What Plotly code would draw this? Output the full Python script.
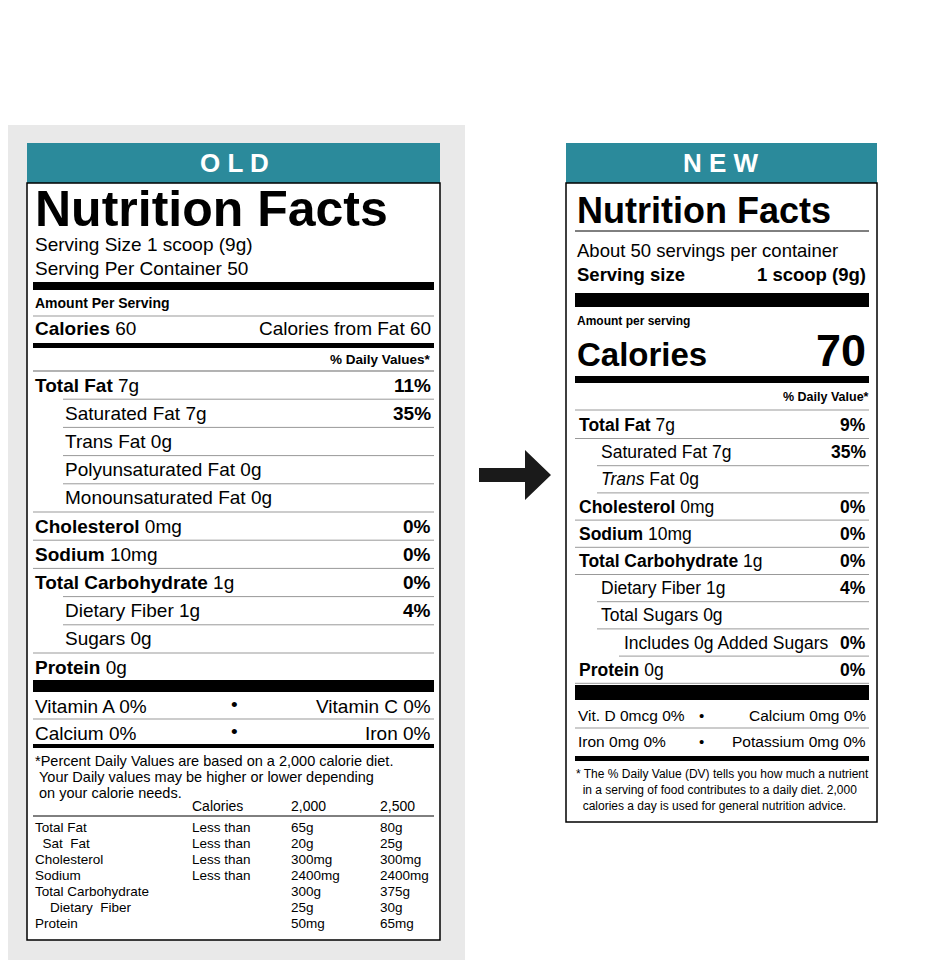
import plotly.graph_objects as go

headline = ["To ensure the accuracy of our nutrition labels, we make",
            "updates due to minor variations from ingredient sourcing,",
            "manufacturing processes, and FDA mandated label changes."]

old_names = ["Total Fat", "Saturated Fat", "Trans Fat", "Polyunsaturated Fat", "Monounsaturated Fat",
             "Cholesterol", "Sodium", "Total Carbohydrate", "Dietary Fiber", "Sugars", "Protein"]
old_amounts = ["7g", "7g", "0g", "0g", "0g", "0mg", "10mg", "1g", "1g", "0g", "0g"]
old_dv = ["11%", "35%", "", "", "", "0%", "0%", "0%", "4%", "", ""]
old_indent = [0, 1, 1, 1, 1, 0, 0, 0, 1, 1, 0]

new_names = ["Total Fat", "Saturated Fat", "Trans", "Cholesterol", "Sodium", "Total Carbohydrate",
             "Dietary Fiber", "Total Sugars", "Includes 0g Added Sugars", "Protein"]
new_amounts = ["7g", "7g", "Fat 0g", "0mg", "10mg", "1g", "1g", "0g", "", "0g"]
new_dv = ["9%", "35%", "", "0%", "0%", "0%", "4%", "", "0%", "0%"]
new_indent = [0, 1, 1, 0, 0, 0, 1, 1, 2, 0]

ref_rows = ["Total Fat", " Sat Fat", "Cholesterol", "Sodium", "Total Carbohydrate", "  Dietary Fiber", "Protein"]
ref_qual = ["Less than", "Less than", "Less than", "Less than", "", "", ""]
ref_2000 = ["65g", "20g", "300mg", "2400mg", "300g", "25g", "50mg"]
ref_2500 = ["80g", "25g", "300mg", "2400mg", "375g", "30g", "65mg"]

TEAL = "#2b8a9b"
F = "Liberation Sans, Arial, sans-serif"
shapes, ann = [], []

def rect(x0, y0, x1, y1, fill, line=None, w=0):
    shapes.append(dict(type="rect", x0=x0, y0=y0, x1=x1, y1=y1, fillcolor=fill,
                       line=dict(color=line or fill, width=w), layer="below"))

def hline(x0, x1, y, w=1, c="#999"):
    shapes.append(dict(type="line", x0=x0, x1=x1, y0=y, y1=y, line=dict(color=c, width=w)))

def txt(x, y, t, size, anchor="left", color="black", family=F):
    ann.append(dict(x=x, y=y, text=t, showarrow=False, xanchor=anchor, yanchor="middle",
                    font=dict(size=size, color=color, family=family)))

for i, l in enumerate(headline):
    txt(3, 15 + 36 * i, "<b>" + l + "</b>", 26.5, family="DejaVu Sans, sans-serif")

# OLD label
rect(3, 125, 465, 968, "#e9e9e9")
rect(27, 143, 440, 183, TEAL)
txt(234, 163, "<b>O L D</b>", 26, "center", "white")
rect(27, 183, 440, 940, "white", "black", 1.5)
txt(33, 209, "<b>Nutrition Facts</b>", 50)
txt(33, 244, "Serving Size 1 scoop (9g)", 19)
txt(33, 268, "Serving Per Container 50", 19)
rect(33, 282, 434, 290, "black")
txt(33, 303, "<b>Amount Per Serving</b>", 14)
hline(33, 434, 316)
txt(33, 328, "<b>Calories</b> 60", 19)
txt(433, 328, "Calories from Fat 60", 19, "right")
rect(33, 343, 434, 348, "black")
txt(433, 359, "<b>% Daily Values*</b>", 13.5, "right")
hline(33, 434, 371)
y = 385
for n, a, d, ind in zip(old_names, old_amounts, old_dv, old_indent):
    hline(33 + 30 * ind, 434, y - 14)
    name = n if ind else "<b>" + n + "</b>"
    txt(33 + 30 * ind, y, name + " " + a, 19)
    if d:
        txt(433, y, "<b>" + d + "</b>", 19, "right")
    y += 28.2
rect(33, 680, 434, 692, "black")
txt(33, 706, "Vitamin A 0%", 19); txt(234, 704, "•", 19, "center"); txt(433, 706, "Vitamin C 0%", 19, "right")
hline(33, 434, 719)
txt(33, 733, "Calcium 0%", 19); txt(234, 731, "•", 19, "center"); txt(433, 733, "Iron 0%", 19, "right")
rect(33, 744, 434, 748, "black")
for i, l in enumerate(["*Percent Daily Values are based on a 2,000 calorie diet.",
                       " Your Daily values may be higher or lower depending",
                       " on your calorie needs."]):
    txt(33, 761 + 16 * i, l.replace(" ", "&nbsp;", 1) if l.startswith(" ") else l, 14.5)
txt(190, 806, "Calories", 14); txt(289, 806, "2,000", 14); txt(378, 806, "2,500", 14)
hline(33, 434, 816, 1, "black")
for i in range(len(ref_rows)):
    yy = 827 + 16 * i
    lab = ref_rows[i].replace(" ", "&nbsp;&nbsp;") if ref_rows[i].startswith(" ") else ref_rows[i]
    txt(33, yy, lab, 13.5); txt(190, yy, ref_qual[i], 13.5)
    txt(289, yy, ref_2000[i], 13.5); txt(378, yy, ref_2500[i], 13.5)

# arrow
shapes.append(dict(type="path", path="M 479 468 L 525 468 L 525 450 L 551 475 L 525 500 L 525 482 L 479 482 Z",
                   fillcolor="#1a1a1a", line=dict(width=0)))

# NEW label
rect(566, 143, 877, 183, TEAL)
txt(721, 163, "<b>N E W</b>", 26, "center", "white")
rect(566, 183, 877, 822, "white", "black", 1.5)
txt(575, 210, "<b>Nutrition Facts</b>", 36)
hline(575, 869, 231, 1, "black")
txt(575, 250, "About 50 servings per container", 18.5)
txt(575, 274, "<b>Serving size</b>", 18.5)
txt(868, 274, "<b>1 scoop (9g)</b>", 18.5, "right")
rect(575, 293, 869, 307, "black")
txt(575, 321, "<b>Amount per serving</b>", 12)
txt(575, 354, "<b>Calories</b>", 33)
txt(868, 350, "<b>70</b>", 45, "right")
rect(575, 376, 869, 383, "black")
txt(871, 397, "<b>% Daily Value*</b>", 12.5, "right")
hline(575, 869, 410)
y = 425
for n, a, d, ind in zip(new_names, new_amounts, new_dv, new_indent):
    x = 577 + 22 * ind + (1 if ind == 2 else 0)
    if ind:
        name = "<i>" + n + "</i>" if n == "Trans" else n
    else:
        name = "<b>" + n + "</b>"
    txt(x, y, (name + " " + a).strip(), 17.5)
    if d:
        txt(868, y, "<b>" + d + "</b>", 17.5, "right")
    hline(575 + 22 * ind, 869, y + 13.5)
    y += 27.2
rect(575, 685, 869, 700, "black")
txt(576, 715, "Vit. D 0mcg 0%", 15.5); txt(701, 715, "•", 15, "center"); txt(868, 715, "Calcium 0mg 0%", 15.5, "right")
hline(575, 869, 728)
txt(576, 741, "Iron 0mg 0%", 15.5); txt(701, 741, "•", 15, "center"); txt(868, 741, "Potassium 0mg 0%", 15.5, "right")
rect(575, 756, 869, 761, "black")
for i, l in enumerate(["* The % Daily Value (DV) tells you how much a nutrient",
                       "&nbsp;&nbsp;in a serving of food contributes to a daily diet. 2,000",
                       "&nbsp;&nbsp;calories a day is used for general nutrition advice."]):
    txt(574, 774 + 16 * i, l, 12)

fig = go.Figure()
fig.update_layout(width=938, height=960, margin=dict(l=0, r=0, t=0, b=0),
                  paper_bgcolor="white", plot_bgcolor="white",
                  xaxis=dict(range=[8, 946], visible=False, fixedrange=True),
                  yaxis=dict(range=[968, 8], visible=False, fixedrange=True),
                  shapes=shapes, annotations=ann, showlegend=False)
fig.write_html("out.html")
